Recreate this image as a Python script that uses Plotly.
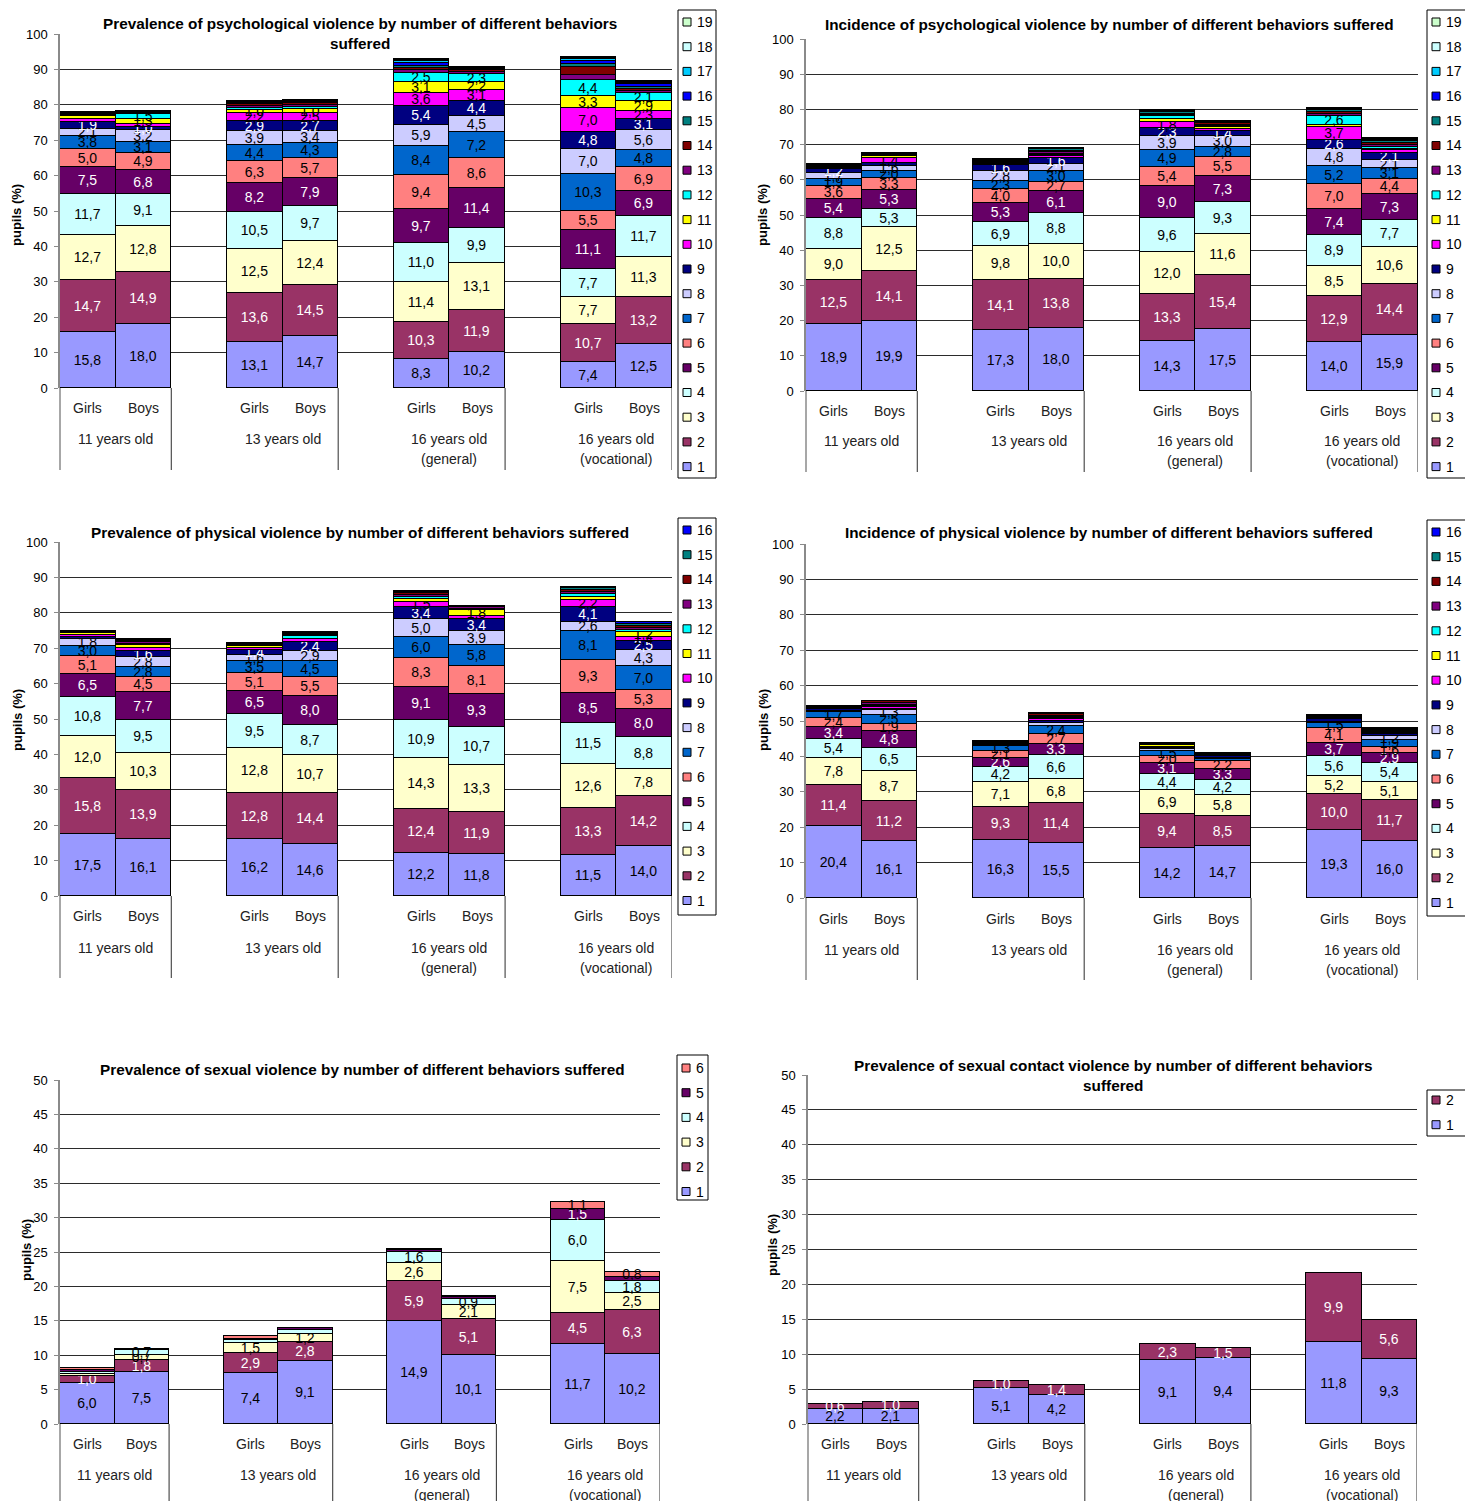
import plotly.graph_objects as go

W, H = 1465, 1501
FONT = "Liberation Sans, Arial, sans-serif"

# ---------------------------------------------------------------- data
sexes = ["Girls", "Boys"]
age_groups = ["11 years old", "13 years old", "16 years old\n(general)", "16 years old\n(vocational)"]

# Each row = number of different behaviours suffered (1, 2, 3, ...),
# columns = Girls/Boys for 11, 13, 16 (general), 16 (vocational)
psych_prevalence = [
    [15.8, 18.0, 13.1, 14.7, 8.3, 10.2, 7.4, 12.5],
    [14.7, 14.9, 13.6, 14.5, 10.3, 11.9, 10.7, 13.2],
    [12.7, 12.8, 12.5, 12.4, 11.4, 13.1, 7.7, 11.3],
    [11.7, 9.1, 10.5, 9.7, 11.0, 9.9, 7.7, 11.7],
    [7.5, 6.8, 8.2, 7.9, 9.7, 11.4, 11.1, 6.9],
    [5.0, 4.9, 6.3, 5.7, 9.4, 8.6, 5.5, 6.9],
    [3.8, 3.1, 4.4, 4.3, 8.4, 7.2, 10.3, 4.8],
    [2.1, 3.2, 3.9, 3.4, 5.9, 4.5, 7.0, 5.6],
    [1.9, 1.0, 2.9, 2.7, 5.4, 4.4, 4.8, 3.1],
    [0.9, 0.8, 2.2, 2.5, 3.6, 3.1, 7.0, 2.3],
    [0.7, 1.3, 1.0, 1.0, 3.1, 2.2, 3.3, 2.9],
    [0.3, 1.5, 0.6, 0.7, 2.5, 2.3, 4.4, 2.1],
    [0.3, 0.3, 0.5, 0.5, 0.9, 0.6, 1.5, 0.6],
    [0.2, 0.2, 0.5, 0.5, 0.5, 0.4, 2.2, 0.5],
    [0.1, 0.1, 0.3, 0.3, 0.6, 0.3, 0.9, 0.6],
    [0.1, 0.1, 0.2, 0.2, 0.8, 0.3, 0.8, 0.8],
    [0.1, 0.1, 0.2, 0.2, 0.5, 0.2, 0.5, 0.4],
    [0.05, 0.0, 0.1, 0.1, 0.3, 0.1, 0.4, 0.3],
    [0.05, 0.0, 0.1, 0.1, 0.2, 0.0, 0.2, 0.2],
]

psych_incidence = [
    [18.9, 19.9, 17.3, 18.0, 14.3, 17.5, 14.0, 15.9],
    [12.5, 14.1, 14.1, 13.8, 13.3, 15.4, 12.9, 14.4],
    [9.0, 12.5, 9.8, 10.0, 12.0, 11.6, 8.5, 10.6],
    [8.8, 5.3, 6.9, 8.8, 9.6, 9.3, 8.9, 7.7],
    [5.4, 5.3, 5.3, 6.1, 9.0, 7.3, 7.4, 7.3],
    [3.6, 3.3, 4.0, 2.7, 5.4, 5.5, 7.0, 4.4],
    [1.9, 2.0, 2.3, 3.0, 4.9, 2.8, 5.2, 3.1],
    [1.7, 1.6, 2.8, 2.1, 3.9, 3.0, 4.8, 2.1],
    [1.2, 0.9, 1.6, 1.6, 2.3, 1.4, 2.6, 2.1],
    [0.4, 1.4, 0.5, 0.6, 1.8, 0.6, 3.7, 0.9],
    [0.2, 0.5, 0.3, 0.4, 0.8, 0.6, 0.6, 0.3],
    [0.2, 0.2, 0.3, 0.3, 0.7, 0.3, 2.6, 0.6],
    [0.2, 0.2, 0.2, 0.6, 0.4, 0.4, 0.6, 0.5],
    [0.2, 0.1, 0.2, 0.3, 0.4, 0.4, 0.5, 0.5],
    [0.1, 0.1, 0.1, 0.4, 0.4, 0.3, 0.4, 0.5],
    [0.1, 0.1, 0.1, 0.1, 0.3, 0.2, 0.3, 0.4],
    [0.05, 0.0, 0.1, 0.1, 0.2, 0.1, 0.2, 0.3],
    [0.05, 0.0, 0.0, 0.1, 0.1, 0.0, 0.2, 0.2],
    [0.0, 0.0, 0.0, 0.0, 0.0, 0.0, 0.0, 0.0],
]

phys_prevalence = [
    [17.5, 16.1, 16.2, 14.6, 12.2, 11.8, 11.5, 14.0],
    [15.8, 13.9, 12.8, 14.4, 12.4, 11.9, 13.3, 14.2],
    [12.0, 10.3, 12.8, 10.7, 14.3, 13.3, 12.6, 7.8],
    [10.8, 9.5, 9.5, 8.7, 10.9, 10.7, 11.5, 8.8],
    [6.5, 7.7, 6.5, 8.0, 9.1, 9.3, 8.5, 8.0],
    [5.1, 4.5, 5.1, 5.5, 8.3, 8.1, 9.3, 5.3],
    [3.0, 2.8, 3.5, 4.5, 6.0, 5.8, 8.1, 7.0],
    [1.8, 2.8, 1.6, 2.9, 5.0, 3.9, 2.6, 4.3],
    [0.6, 1.6, 1.4, 2.4, 3.4, 3.4, 4.1, 2.5],
    [0.7, 0.8, 0.6, 0.8, 1.5, 0.9, 2.2, 1.4],
    [0.4, 0.9, 0.6, 0.2, 0.9, 1.8, 0.9, 1.2],
    [0.3, 0.4, 0.3, 0.7, 0.6, 0.3, 0.8, 0.6],
    [0.2, 0.4, 0.3, 0.3, 0.5, 0.3, 0.6, 0.6],
    [0.2, 0.3, 0.3, 0.3, 0.5, 0.2, 0.5, 0.6],
    [0.0, 0.3, 0.0, 0.3, 0.3, 0.1, 0.4, 0.5],
    [0.0, 0.2, 0.0, 0.3, 0.2, 0.0, 0.4, 0.6],
]

phys_incidence = [
    [20.4, 16.1, 16.3, 15.5, 14.2, 14.7, 19.3, 16.0],
    [11.4, 11.2, 9.3, 11.4, 9.4, 8.5, 10.0, 11.7],
    [7.8, 8.7, 7.1, 6.8, 6.9, 5.8, 5.2, 5.1],
    [5.4, 6.5, 4.2, 6.6, 4.4, 4.2, 5.6, 5.4],
    [3.4, 4.8, 2.6, 3.3, 3.1, 3.3, 3.7, 2.9],
    [2.4, 1.9, 2.1, 2.7, 2.0, 2.2, 4.1, 1.6],
    [1.7, 2.5, 1.3, 2.4, 1.5, 0.6, 1.5, 1.9],
    [0.4, 1.3, 0.4, 0.8, 0.5, 0.3, 0.3, 1.2],
    [0.4, 0.4, 0.3, 0.6, 0.4, 0.4, 0.9, 0.4],
    [0.2, 0.5, 0.3, 0.4, 0.3, 0.2, 0.2, 0.3],
    [0.2, 0.4, 0.2, 0.4, 0.5, 0.3, 0.2, 0.4],
    [0.2, 0.3, 0.1, 0.3, 0.2, 0.2, 0.2, 0.3],
    [0.1, 0.4, 0.2, 0.3, 0.2, 0.2, 0.2, 0.3],
    [0.2, 0.6, 0.0, 0.4, 0.2, 0.1, 0.2, 0.3],
    [0.0, 0.0, 0.0, 0.2, 0.0, 0.0, 0.0, 0.2],
    [0.0, 0.0, 0.0, 0.2, 0.0, 0.0, 0.0, 0.0],
]

sexual_prevalence = [
    [6.0, 7.5, 7.4, 9.1, 14.9, 10.1, 11.7, 10.2],
    [1.0, 1.8, 2.9, 2.8, 5.9, 5.1, 4.5, 6.3],
    [0.3, 0.7, 1.5, 1.2, 2.6, 2.1, 7.5, 2.5],
    [0.3, 0.7, 0.4, 0.5, 1.6, 0.9, 6.0, 1.8],
    [0.3, 0.1, 0.2, 0.3, 0.3, 0.2, 1.5, 0.5],
    [0.2, 0.1, 0.4, 0.1, 0.1, 0.2, 1.1, 0.8],
]

contact_prevalence = [
    [2.2, 2.1, 5.1, 4.2, 9.1, 9.4, 11.8, 9.3],
    [0.6, 1.0, 1.0, 1.4, 2.3, 1.5, 9.9, 5.6],
]

# ---------------------------------------------------------------- styling
palette = ["#9999FF", "#993366", "#FFFFCC", "#CCFFFF", "#660066", "#FF8080", "#0066CC",
           "#CCCCFF", "#000080", "#FF00FF", "#FFFF00", "#00FFFF", "#800080", "#800000",
           "#008080", "#0000FF", "#00CCFF", "#CCFFFF", "#CCFFCC"]
light_text_on = {2, 5, 9, 13, 14, 15, 16}

panels = [
    dict(title="Prevalence of psychological violence by number of different behaviors<br>suffered",
         data=psych_prevalence, ymax=100, dtick=10, box=(60, 672, 388, 34),
         title_xy=(360, 33), ytitle_xy=(17, 215), cat_y=408, grp_y=439, sep_end=470,
         legend=(678, 10, 716, 478, 22), lab_min=1.0, lab_max_cat=12),
    dict(title="Incidence of psychological violence by number of different behaviors suffered",
         data=psych_incidence, ymax=100, dtick=10, box=(806, 1418, 391, 39),
         title_xy=(1109, 25), ytitle_xy=(763, 215), cat_y=411, grp_y=441, sep_end=472,
         legend=(1427, 10, 1467, 478, 22), lab_min=1.0, lab_max_cat=12),
    dict(title="Prevalence of physical violence by number of different behaviors suffered",
         data=phys_prevalence, ymax=100, dtick=10, box=(60, 672, 896, 542),
         title_xy=(360, 532), ytitle_xy=(17, 720), cat_y=916, grp_y=948, sep_end=978,
         legend=(678, 518, 716, 915, 530), lab_min=1.0, lab_max_cat=11),
    dict(title="Incidence of physical violence by number of different behaviors suffered",
         data=phys_incidence, ymax=100, dtick=10, box=(806, 1418, 898, 544),
         title_xy=(1109, 533), ytitle_xy=(763, 720), cat_y=919, grp_y=950, sep_end=980,
         legend=(1427, 520, 1467, 916, 532), lab_min=1.0, lab_max_cat=8),
    dict(title="Prevalence of sexual violence by number of different behaviors suffered",
         data=sexual_prevalence, ymax=50, dtick=5, box=(60, 660, 1424, 1080),
         title_xy=(362, 1069), ytitle_xy=(26, 1250), cat_y=1444, grp_y=1475, sep_end=1501,
         legend=(677, 1055, 708, 1200, 1068), lab_min=0.7, lab_max_cat=6),
    dict(title="Prevalence of sexual contact violence by number of different behaviors<br>suffered",
         data=contact_prevalence, ymax=50, dtick=5, box=(808, 1417, 1424, 1075),
         title_xy=(1113, 1075), ytitle_xy=(772, 1245), cat_y=1444, grp_y=1475, sep_end=1501,
         legend=(1427, 1090, 1467, 1136, 1100), lab_min=0.5, lab_max_cat=2),
]
LEG_STEP = 24.7


def px(x):
    return x / W


def py(y):
    return 1 - y / H


def fmt(v):
    return f"{v:.1f}".replace(".", ",")


# bar slot on the category axis: two bars per age group, one empty slot between groups
bar_x = [g * 3 + s for g in range(len(age_groups)) for s in range(len(sexes))]

fig = go.Figure()
shapes, annotations = [], []
layout = {}

for i, p in enumerate(panels, start=1):
    xa, ya = ("x", "y") if i == 1 else (f"x{i}", f"y{i}")
    xkey, ykey = ("xaxis", "yaxis") if i == 1 else (f"xaxis{i}", f"yaxis{i}")
    x0, x1, y0, ytop = p["box"]
    layout[xkey] = dict(domain=[px(x0), px(x1)], range=[-0.5, 10.5], anchor=ya,
                        showticklabels=False, showgrid=False, zeroline=False, showline=False,
                        fixedrange=True)
    layout[ykey] = dict(domain=[py(y0), py(ytop)], range=[0, p["ymax"]], dtick=p["dtick"],
                        anchor=xa, showgrid=True, gridcolor="#2b2b2b", gridwidth=1,
                        zeroline=False, showline=True, linecolor="#8a8a8a", linewidth=1.5,
                        ticks="outside", ticklen=4, tickcolor="#8a8a8a",
                        tickfont=dict(family=FONT, size=13, color="#000"),
                        ticklabelstandoff=4, fixedrange=True)

    for k, row in enumerate(p["data"]):
        cat = k + 1
        show = cat <= p["lab_max_cat"]
        texts = [fmt(v) if (show and v >= p["lab_min"]) else "" for v in row]
        fig.add_trace(go.Bar(
            x=bar_x, y=row, xaxis=xa, yaxis=ya, width=1, name=str(cat),
            marker=dict(color=palette[k], line=dict(color="#000", width=1)),
            text=texts, textposition="inside", insidetextanchor="middle",
            textangle=0, constraintext="none",
            textfont=dict(family=FONT, size=14,
                          color="#ffffff" if cat in light_text_on else "#000000"),
            showlegend=False, hoverinfo="skip",
        ))

    # panel title
    tx, ty = p["title_xy"]
    annotations.append(dict(text=f"<b>{p['title']}</b>", x=px(tx), y=py(ty), xref="paper",
                            yref="paper", showarrow=False, xanchor="center", yanchor="middle",
                            font=dict(family=FONT, size=15.3, color="#000")))
    # y-axis title
    yx, yy = p["ytitle_xy"]
    annotations.append(dict(text="<b>pupils (%)</b>", x=px(yx), y=py(yy), xref="paper",
                            yref="paper", showarrow=False, textangle=-90,
                            xanchor="center", yanchor="middle",
                            font=dict(family=FONT, size=13, color="#000")))
    # two-level category labels
    for j, xv in enumerate(bar_x):
        annotations.append(dict(text=sexes[j % 2], x=xv, y=py(p["cat_y"]), xref=xa,
                                yref="paper", showarrow=False, xanchor="center",
                                yanchor="middle",
                                font=dict(family=FONT, size=14, color="#222")))
    for g, name in enumerate(age_groups):
        for ln, line in enumerate(name.split("\n")):
            annotations.append(dict(text=line, x=g * 3 + 0.5, y=py(p["grp_y"] + 20 * ln),
                                    xref=xa, yref="paper", showarrow=False, xanchor="center",
                                    yanchor="middle",
                                    font=dict(family=FONT, size=14, color="#222")))
    # group separators running down through the label area
    for g in range(len(age_groups)):
        shapes.append(dict(type="line", xref=xa, yref="paper", x0=g * 3 + 1.5, x1=g * 3 + 1.5,
                           y0=py(y0), y1=py(p["sep_end"]), line=dict(color="#2b2b2b", width=1)))
    shapes.append(dict(type="line", xref="paper", yref="paper", x0=px(x0), x1=px(x0),
                       y0=py(y0), y1=py(p["sep_end"]), line=dict(color="#8a8a8a", width=1.5)))

    # legend box (highest count on top)
    lx0, ly0, lx1, ly1, first = p["legend"]
    shapes.append(dict(type="rect", xref="paper", yref="paper", x0=px(lx0), x1=px(lx1),
                       y0=py(ly0), y1=py(ly1), line=dict(color="#000", width=1),
                       fillcolor="#fff", layer="below"))
    n = len(p["data"])
    for k in range(n):
        yc = first + (n - 1 - k) * LEG_STEP
        shapes.append(dict(type="rect", xref="paper", yref="paper",
                           x0=px(lx0 + 5), x1=px(lx0 + 13), y0=py(yc - 4), y1=py(yc + 4),
                           fillcolor=palette[k], line=dict(color="#000", width=1)))
        annotations.append(dict(text=str(k + 1), x=px(lx0 + 17), y=py(yc), xref="paper",
                                yref="paper", showarrow=False, xanchor="left", yanchor="middle",
                                font=dict(family=FONT, size=14, color="#000")))

fig.update_layout(
    width=W, height=H, margin=dict(l=0, r=0, t=0, b=0, autoexpand=False),
    barmode="stack", bargap=0, showlegend=False,
    paper_bgcolor="#fff", plot_bgcolor="#fff",
    font=dict(family=FONT, size=13, color="#000"),
    shapes=shapes, annotations=annotations, **layout,
)

fig.write_html("out.html")
